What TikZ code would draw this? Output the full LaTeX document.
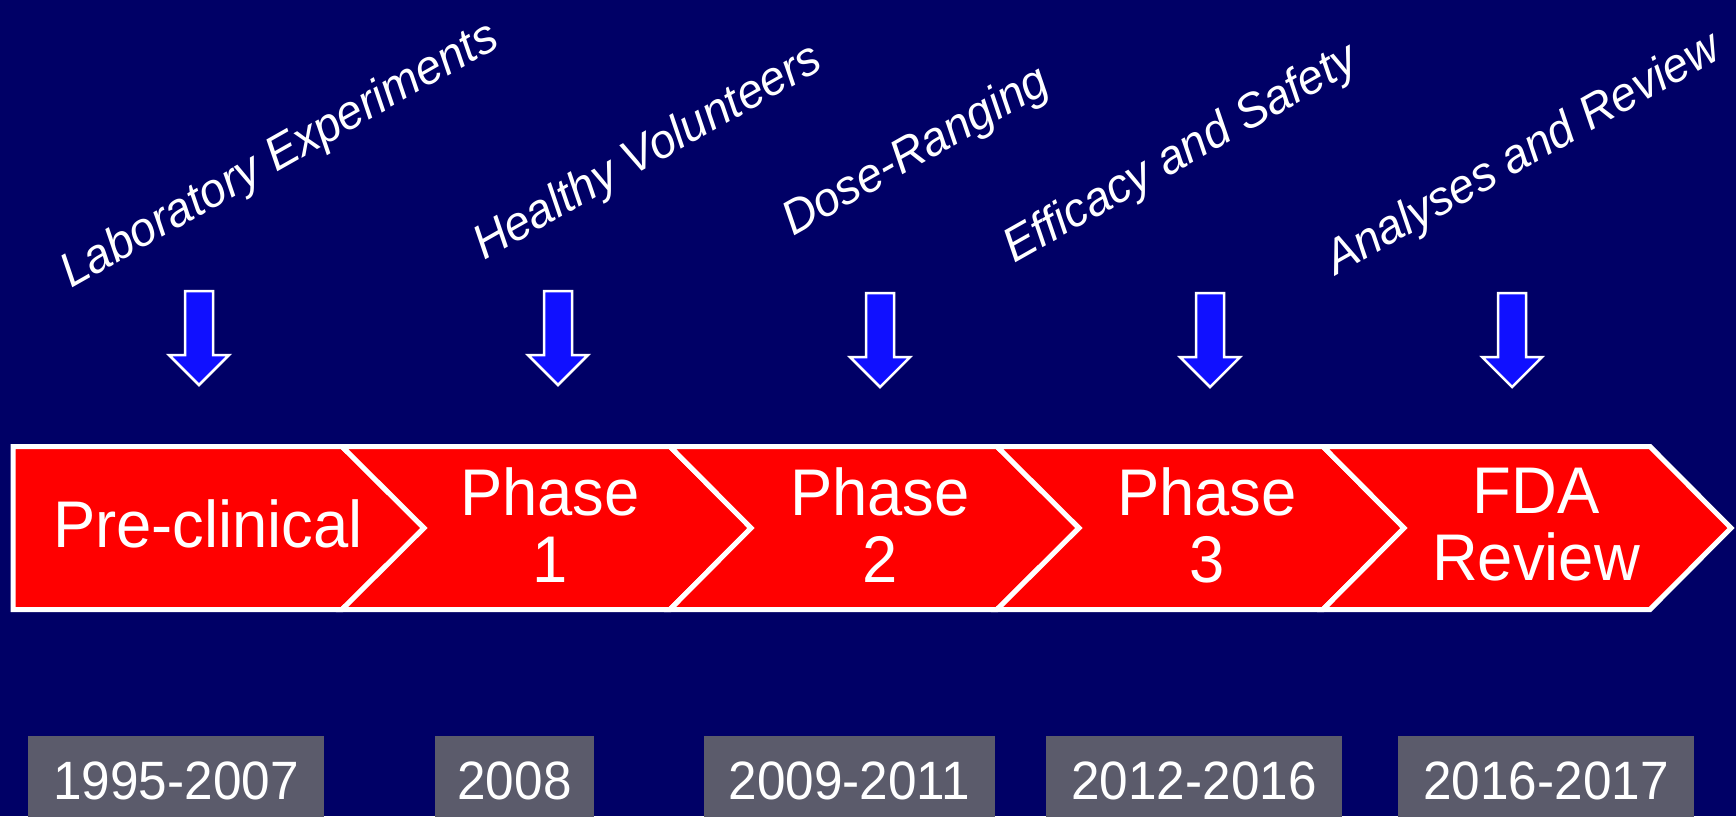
\documentclass[tikz,border=0pt]{standalone}
\usepackage{fontspec}
\setmainfont{Liberation Sans}
\newfontfamily\chevfont[FakeStretch=0.96]{Liberation Sans}
\newfontfamily\yearfont[FakeStretch=0.95]{Liberation Sans}
\newfontfamily\labfont[FakeStretch=0.97]{Liberation Sans}
\definecolor{bgnavy}{RGB}{0,0,102}
\definecolor{chevred}{RGB}{255,0,0}
\definecolor{arrblue}{RGB}{16,16,255}
\definecolor{yeargray}{RGB}{91,91,107}
\tikzset{
  chev/.style={fill=chevred, draw=white, line width=5pt, line join=miter},
  chevtext/.style={text=white, align=center, inner sep=0pt, font=\chevfont\fontsize{66}{67}\selectfont},
  downarr/.style={fill=arrblue, draw=white, line width=2.5pt, line join=miter},
  stagelabel/.style={text=white, anchor=base west, rotate=29.5, inner sep=0pt, font=\labfont\itshape\fontsize{48}{52}\selectfont},
  yearbox/.style={fill=yeargray, draw=none},
  yeartext/.style={text=white, anchor=base, inner sep=0pt, font=\yearfont\fontsize{54}{60}\selectfont},
}
\begin{document}
\begin{tikzpicture}[x=1pt,y=-1pt]
\fill[bgnavy] (0,0) rectangle (1736,816);
\useasboundingbox (0,0) rectangle (1736,816);

% chevrons
\draw[chev] (13,446.5) -- (342,446.5) -- (424,528) -- (342,609.5) -- (13,609.5) -- cycle;
\draw[chev] (342,446.5) -- (670,446.5) -- (751,528) -- (670,609.5) -- (342,609.5) -- (424,528) -- cycle;
\draw[chev] (670,446.5) -- (997,446.5) -- (1079,528) -- (997,609.5) -- (670,609.5) -- (751,528) -- cycle;
\draw[chev] (997,446.5) -- (1323,446.5) -- (1404,528) -- (1323,609.5) -- (997,609.5) -- (1079,528) -- cycle;
\draw[chev] (1323,446.5) -- (1650,446.5) -- (1731,528) -- (1650,609.5) -- (1323,609.5) -- (1404,528) -- cycle;

\node[chevtext] (pre) at (208,524) {Pre-clinical};
\node[chevtext] (ph1) at (550,525) {Phase\\1};
\node[chevtext] (ph2) at (880,525) {Phase\\2};
\node[chevtext] (ph3) at (1207,525) {Phase\\3};
\node[chevtext] (fda) at (1536,525) {FDA\\Review};

% down arrows
\foreach \cx/\t in {199/291, 558/291, 880/293, 1210/293, 1512/293}{
  \draw[downarr] (\cx-14,\t) -- (\cx+14,\t) -- (\cx+14,\t+64) -- (\cx+30,\t+64)
     -- (\cx,\t+94) -- (\cx-30,\t+64) -- (\cx-14,\t+64) -- cycle;
}

% rotated stage labels
\node[stagelabel] (lab) at (71,289) {Laboratory Experiments};
\node[stagelabel] (hv) at (484,261) {Healthy Volunteers};
\node[stagelabel] (dr) at (793,237) {Dose-Ranging};
\node[stagelabel] (es) at (1014,264) {Efficacy and Safety};
\node[stagelabel] (ar) at (1336,276) {Analyses and Review};

% year boxes
\fill[yearbox] (28,736) rectangle (324,820);
\fill[yearbox] (435,736) rectangle (594,820);
\fill[yearbox] (704,736) rectangle (995,820);
\fill[yearbox] (1046,736) rectangle (1342,820);
\fill[yearbox] (1398,736) rectangle (1694,820);
\node[yeartext] (y1) at (176,799) {1995-2007};
\node[yeartext] (y2) at (514.5,799) {2008};
\node[yeartext] (y3) at (849.5,799) {2009-2011};
\node[yeartext] (y4) at (1194,799) {2012-2016};
\node[yeartext] (y5) at (1546,799) {2016-2017};
\end{tikzpicture}
\end{document}
